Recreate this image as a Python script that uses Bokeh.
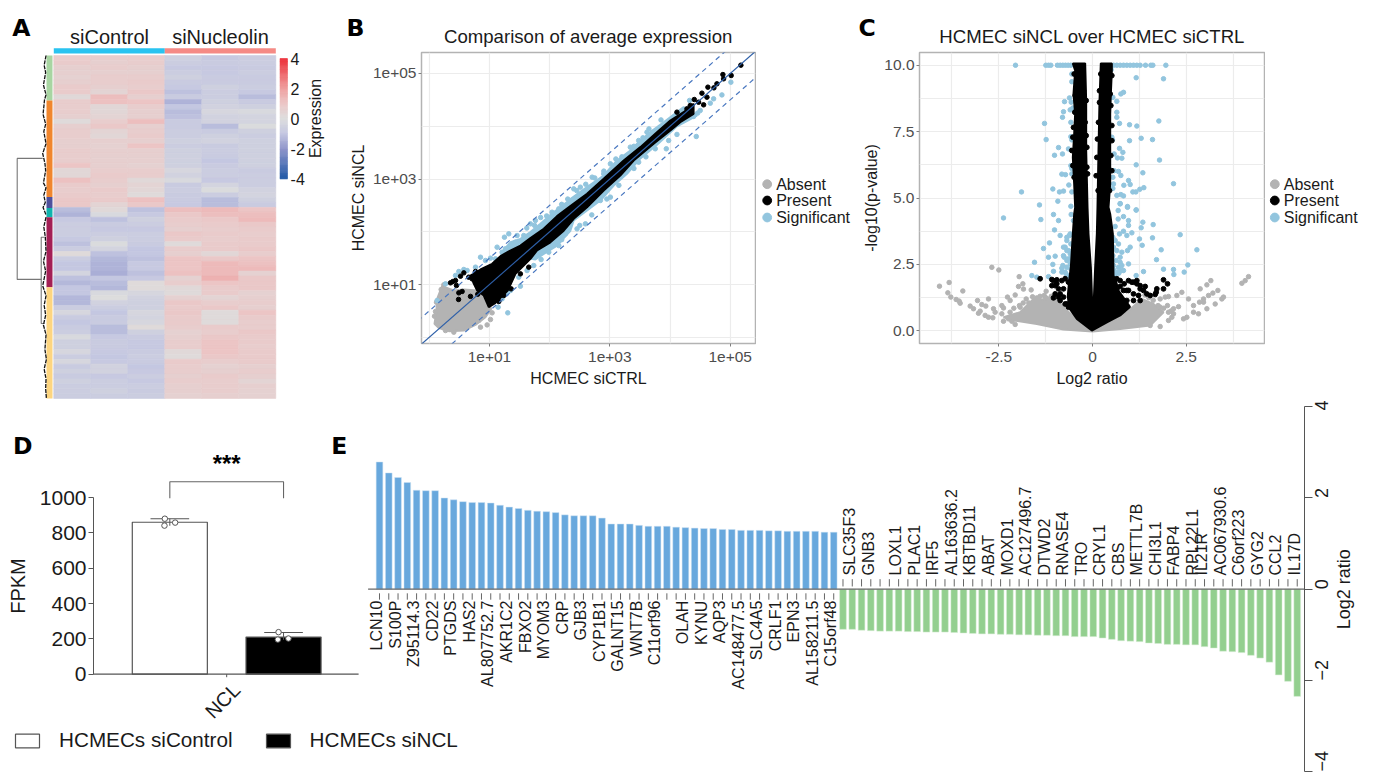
import numpy as np
from math import pi
from bokeh.plotting import figure
from bokeh.layouts import column, row
from bokeh.embed import file_html
from bokeh.resources import INLINE
from bokeh.core.properties import value
from bokeh.models import Range1d, LinearAxis, Grid, FixedTicker, Legend, LegendItem, LinearColorMapper, ColumnDataSource

FONT = "Liberation Sans"
LETTER = "DejaVu Sans"

# ---------- Panel A data ----------
heat_rows = [
 [.7,.7,.7,-.6,-.9,-.7],[.8,.6,.7,-.7,-.8,-.7],[.6,.7,.6,-.9,-.9,-.8],[.6,.6,.6,-.7,-.9,-.7],
 [.5,.7,.7,-.6,-.8,-.8],[.6,.7,.8,-.8,-.8,-.8],[.8,.6,.7,-.9,-.6,-.7],[.8,.4,.9,-1.1,-.7,-.9],
 [.2,1.2,.6,-.8,-.7,-1.2],[.7,1.1,1.0,-1.4,-.6,-.8],[.7,.3,.7,-1.0,-.5,-.6],[.7,.3,.6,-1.2,-.3,-.2],
 [.6,.4,.6,-1.1,-.5,-.4],[.1,.7,1.2,-.8,-.5,-.4],[.6,.9,.6,-.8,-1.2,-.1],[.7,.4,.7,-.7,-.8,-.6],
 [.7,.3,.8,-.7,-.6,-.7],[.6,.6,.6,-.6,-.5,-.6],[.6,.5,1.0,-.7,-.8,-.6],[.7,.6,.6,-.6,-.7,-.6],
 [.7,.6,.6,-.6,-.8,-.6],[.7,.6,.6,-.6,-1.0,-.6],[1.0,.6,.5,-.6,-.8,-.6],[.3,.7,.7,-.3,-.7,-.8],
 [.3,.8,.7,-.5,-.7,-.7],[1.1,.7,.2,-.2,-.9,-.7],[.8,.6,.4,-.8,-.4,-.7],[.7,.8,.3,-.7,-.1,-.5],
 [.8,.7,.1,-.8,-.7,-.4],[.9,.8,1.1,-.8,-1.2,-.6],[.9,.4,.9,-.9,-1.2,-.8],
 [-1.2,.2,-1.1,1.2,1.3,1.0],[-1.4,-.2,-.9,.9,1.2,1.2],[-.9,-1.1,-.6,.8,.9,1.3],[-.7,-.8,-.7,.7,.8,.9],
 [-.7,-.9,-.9,.6,.7,.8],[-.7,-.7,-.7,.9,.8,.7],[-.9,-.6,-.7,.8,.7,.8],[-1.1,-.1,-.8,.1,.8,.8],
 [-.7,-.4,-1.0,.7,.8,.9],[.1,-1.1,-1.0,.6,.3,.7],[-.7,-1.3,-1.1,1.0,.9,1.0],[-1.0,-1.4,-.9,1.0,1.3,1.1],
 [-1.0,-1.4,-.9,1.0,1.3,1.3],[-.4,-1.5,-1.1,1.1,1.3,.5],[-1.1,-1.0,-.9,.5,1.5,.9],[-1.3,-1.2,.1,.7,1.0,.9],
 [-1.0,-1.3,.1,.2,.8,.9],[-1.0,-.2,-.3,.1,.8,.5],[-1.3,.0,-.5,.5,.4,.6],[-1.3,-.5,-.6,.9,.7,.7],
 [-.7,-.7,-.6,.8,.9,.6],[-.3,-1.0,-.3,.9,.1,1.0],[-.8,-.8,-.4,.8,.1,.8],[-1.0,-.8,-.3,.8,.1,.7],
 [-.8,-1.2,.1,.7,.8,.7],[-.7,-1.2,-.6,.5,.7,.9],[-.2,-.9,-.8,.6,.9,.8],[-.6,-.8,-.9,.7,1.0,.8],
 [-.6,-.8,-.9,.7,1.0,.7],[-.3,-.9,-.8,.2,1.0,.8],[-.7,-1.0,-.7,.1,.9,.8],[-.3,-.9,-.8,.8,.7,.8],
 [-.8,-.5,-1.0,.7,.5,.6],[-.6,-.5,-.9,.7,.6,.7],[-.8,-.9,-.7,.6,.8,.6],[-.6,-.7,-.9,.7,.7,.4],
 [-.7,-.7,-.7,.6,.7,.6],[-.7,-.6,-.8,.6,.7,.5],[-.7,-.7,-.7,.5,.6,.5],
]
groups = ["siControl", "siNucleolin"]
group_colors = ["#29c3f0", "#f58a85"]
cluster_edges = [0, 9.18, 28.9, 31.1, 33.0, 47.3, 70]
cluster_colors = ["#a8d5a2", "#f0862e", "#4f519d", "#0fb3ae", "#a31f55", "#fdd580"]
color_levels = [-4, -2, -1, 0, 1, 2, 4]
level_colors = ["#2058a6", "#8f95ca", "#c4c7e1", "#dddddd", "#ecc6c6", "#ee9e9e", "#ed2e38"]
bar_ticks = [4, 2, 0, -2, -4]
dendro_x = [[-.33,-.989,-.989,-.3], [-.25,-.34,-.34,-.25]]
dendro_y = [[45.7,45.7,21.0,21.0], [37.1,37.1,54.7,54.7]]
tangle_top_x = [-.21,-.26,-.22,-.28,-.21,-.25,-.29,-.22,-.27,-.21,-.3,-.24,-.22,-.28,-.21,-.27,-.23,-.29,-.21]
tangle_top_y = [0,2,3.5,6,8,9,12,14,15.5,18,20,22,23.5,26,27,28.5,30,31,32.5]
tangle_low_x = [-.21,-.27,-.23,-.21,-.28,-.22,-.3,-.21,-.26,-.22,-.28,-.21,-.24,-.2,-.26,-.21,-.22,-.2]
tangle_low_y = [33,35,37,40,42,44,47,49,51,53,55,57,60,62,64,66,68,70]

# ---------- Panel B data (log10 values) ----------
band_black_x = [.685,.851,1.044,1.183,1.321,1.515,1.681,1.902,2.123,2.344,2.621,2.898,3.230,3.507,3.783,4.005,4.226,4.391,
                4.391,4.170,4.005,3.728,3.396,3.174,2.898,2.621,2.400,2.234,2.012,1.791,1.681,1.432,1.304,1.100,.989,.906,.796,.741]
band_black_y = [1.171,1.285,1.393,1.538,1.626,1.739,1.879,2.056,2.296,2.486,2.719,3.003,3.351,3.604,3.888,4.109,4.267,4.425,
                4.235,4.077,3.919,3.667,3.351,3.067,2.782,2.466,2.245,2.020,1.800,1.646,1.487,1.201,.887,.653,.571,.792,.887,1.013]
band_blue_x = [1.183,1.349,1.515,1.681,1.846,2.067,2.289,2.344,2.621,2.898,3.119,3.341,3.507,3.673,3.894,4.226,
               4.447,4.115,3.783,3.507,3.285,3.064,2.843,2.621,2.400,2.344,2.123,1.902,1.763]
band_blue_y = [1.581,1.803,1.866,1.993,2.150,2.371,2.561,2.620,2.845,3.067,3.351,3.540,3.730,3.888,4.077,4.362,
               4.200,4.000,3.650,3.390,3.098,2.877,2.593,2.403,2.214,2.020,1.739,1.581,1.474]
blob_grey_x = [.213,.131,.120,.087,.159,.325,.573,.767,.933,1.028,.906,.796,.573,.407]
blob_grey_y = [.969,.728,.507,.255,.173,.116,.128,.235,.381,.539,.792,.887,.906,.887]
b_grey_x = [.120,.104,.087,.961,1.017,1.044,.242,.198,.851,.408,.270,.823]
b_grey_y = [.665,.488,.400,.235,.337,.463,.994,.905,.192,.097,.128,.318]
b_black_x = [5.177,4.878,4.890,5.016,4.779,4.629,4.530,4.729,4.613,4.403,4.558,4.475,4.336,4.281,4.226,4.115,
             .487,.353,.392,.452,.491,.546,.519,.436,.685,.806,.574,.768,.656,.712,1.155,1.238,1.360,1.514,1.653,.989,.906,.839]
b_black_y = [5.158,4.980,4.899,4.962,4.804,4.741,4.627,4.728,4.551,4.507,4.406,4.456,4.393,4.330,4.204,4.267,
             .717,1.032,1.057,.981,.842,.868,1.158,1.076,.775,.817,1.221,1.247,1.139,1.108,.678,.792,.918,1.202,1.329,1.266,1.221,1.171]
b_blue_x = [.851,1.321,1.249,1.127,1.349,1.210,1.459,1.304,.574,.436,.491,.629,.270,.131,1.100,1.017,.934,.768,1.144,1.210,
            1.282,1.349,1.514,1.487,1.625,1.736,1.858,1.985,2.151,2.262,2.594,1.680,1.763,1.929,2.040,2.151,1.570,1.266,1.432,2.455,
            2.706,3.009,3.340,3.617,3.728,3.479,3.065,2.898,2.510,2.400,2.565,3.938,3.977,4.436,4.115,4.392,4.458,4.862,4.724,4.669,
            4.502,4.325,5.011,2.843,3.009,3.755,3.479,3.257,4.170,
            1.62,1.75,1.85,1.95,2.2,2.3,2.45,2.6,2.75,2.9,3.1,3.2,3.4,3.55,3.65,3.85,1.9,2.2,2.5,2.7,2.95,3.15,3.4,3.6]
b_blue_y = [1.518,1.961,1.897,1.708,1.727,1.613,1.929,.463,1.285,1.171,1.247,1.266,1.013,.697,1.487,1.499,1.455,1.329,.571,.729,
            .823,.886,.968,1.139,1.265,1.360,1.474,1.613,1.739,1.961,2.150,2.150,2.214,2.150,2.371,2.434,1.929,1.676,1.803,2.055,
            3.035,3.288,3.604,3.888,3.888,3.730,3.225,3.098,2.845,2.813,2.656,3.573,3.730,3.806,3.845,4.186,4.249,4.594,4.520,4.437,
            4.299,4.489,4.835,2.593,2.656,3.573,3.320,3.131,4.204,
            2.07,2.12,2.27,2.30,2.52,2.62,2.78,2.9,3.02,3.15,3.38,3.42,3.62,3.78,3.95,4.12,1.65,1.85,2.12,2.32,2.62,2.88,3.2,3.42]
diag_log = [-.3, 5.6]
fold_band_log = .5

# ---------- Panel C data ----------
v_black_x = [-.525,-.463,-.507,-.463,-.489,-.525,-.489,-.463,-.489,-.525,-.578,-.62,-.66,-.62,-.418,-.018,
             .383,.738,1.0,.85,.70,.62,.560,.543,.472,.427,.472,.472,.472,.472,.489,.516,.516,
             .222,.187,.160,.133,.116,.071,.027,0,-.044,-.107,-.133,-.169,-.169,-.196]
v_black_y = [10.07,9.80,8.92,8.17,7.41,6.53,5.53,4.65,4.40,3.65,2.39,1.95,1.30,.85,.45,.01,
             .32,.58,.90,1.20,1.50,1.90,2.08,3.65,4.40,4.65,5.53,6.53,7.41,8.17,8.92,9.80,10.07,
             10.07,8.67,6.79,4.65,3.65,2.39,.89,.70,2.39,3.65,4.65,6.79,8.67,10.07]
c_black_x = [-1.397,-1.085,-.952,-.996,-.907,-.685,1.183,1.272,1.406,1.717,1.699,1.895,2.002,1.895,1.673,1.539,1.050,.916,
             -.489,-.240,-.463,-.169,-.472,-.222,-.507,-.196,-.525,-.169,-.552,-.151,-.525,-.151,-.489,-.133,
             .222,.516,.187,.472,.187,.489,.160,.516,.133,.516,.116,.489,.098,.516,.151,.454,
             -1.041,-1.085,-.952,-.819,-.730,-.641,-.907,-.996,-1.041,-.863,-.774,-.863,-.730,-.641,-.774,
             .649,.738,.845,.961,1.094,1.183,1.272,1.361,1.450,1.228,1.094,.961,.827,.738,1.094,.916,1.272,.649]
c_black_y = [1.96,1.93,1.92,1.70,1.27,1.01,1.89,1.70,1.67,1.58,1.45,1.92,1.77,1.58,1.37,1.33,1.83,1.52,
             9.67,9.04,8.86,8.67,8.23,8.35,7.66,7.85,7.29,7.35,6.79,6.91,6.22,6.16,5.78,5.91,
             9.67,9.61,9.04,8.92,8.60,8.48,7.85,7.73,7.22,7.16,6.53,6.60,5.84,6.03,5.28,5.28,
             1.89,1.70,1.77,1.89,1.96,1.83,1.58,1.39,1.24,1.39,1.58,1.14,1.01,.89,1.27,
             1.96,1.89,1.77,1.89,1.83,1.77,1.58,1.52,1.39,1.33,1.39,1.52,1.52,1.67,1.14,1.14,1.14,1.58]
v_grey_x = [-2.375,-1.931,-1.575,-.952,-.685,-.329,0,.383,.916,1.317,1.628,1.895,1.539,.738,0,-.774,-1.486,-2.108]
v_grey_y = [.51,.70,1.20,1.17,.76,.32,.14,.32,.70,1.20,1.01,.70,.20,.07,-.03,.05,.26,.39]
c_grey_x = [-4.084,-3.826,-3.861,-3.781,-3.461,-3.639,-3.559,-3.532,-3.265,-3.176,-3.043,-3.069,-2.954,-2.847,-2.776,-2.642,-2.598,
            -2.420,-2.375,-2.269,-2.198,-2.064,-1.957,-2.687,-2.500,-1.975,-1.859,-1.842,-1.637,-1.486,-1.237,-1.290,-1.201,-1.770,-1.931,
            -2.776,-2.865,-2.660,-2.420,-2.242,-2.153,-2.064,-2.998,-2.375,
            4.164,4.075,3.986,3.158,3.052,2.874,3.345,3.212,3.096,2.963,2.856,2.696,2.562,2.384,2.251,2.028,1.940,1.806,3.496,3.452,3.274,
            3.052,2.829,2.518,2.429,2.162,2.117,2.028,1.539,1.806,1.628,2.295,2.162,2.028,1.806,2.696,2.963,
            -1.7,-1.6,-1.4,-1.25,-1.1,1.5,1.4,1.62,1.75,1.9,-2.2,-2.1,-1.95,-1.85,2.0,2.1]
c_grey_y = [1.68,1.82,1.43,1.27,1.50,1.18,1.12,1.04,.93,.83,.66,1.14,.99,.93,1.20,.83,.70,
            .95,.86,1.27,1.14,1.35,2.04,2.39,2.29,1.67,1.77,1.57,1.54,1.24,1.49,1.33,1.20,1.20,.89,
            .51,.58,.49,.64,.45,.36,.24,.74,.36,
            2.04,1.89,1.79,1.89,1.73,1.58,1.52,1.42,1.33,1.20,1.08,.95,1.20,1.45,1.33,1.29,1.27,1.20,1.27,1.20,1.01,
            .83,.64,.51,.45,.64,.51,.39,.20,.16,.58,.91,.83,.70,.89,.70,1.08,
            1.05,1.28,1.3,1.25,1.3,1.25,1.35,1.15,.95,.85,.7,.85,.95,1.05,.95,.75]
c_blue_top_x = [-2.055,-1.246,-1.174,-1.112,-.934,-.863,-.792,-.721,-.649,-.578,.560,.649,.738,.827,.916,1.005,1.094,1.183,1.272,1.415,1.557,1.610,1.957]
c_blue_x = [1.895,1.166,-.552,.498,-.552,.827,.756,.543,.649,-.614,-.747,-.569,-.525,-.596,-.774,-.801,.649,-.578,-1.281,.721,.988,1.183,1.770,.649,
            -1.237,-.578,-.552,.516,.534,.988,1.299,1.601,-.907,-.641,-.801,-1.014,.721,.810,.578,.667,.783,1.788,1.166,-.578,-.552,.578,.694,1.343,
            -.819,-.721,-.552,.756,.543,.961,2.162,-.632,-1.059,-.881,-.774,-.552,-1.895,.836,1.005,.560,.543,1.076,1.157,1.263,1.370,.649,.756,.827,
            -.925,-1.415,-.578,.738,.934,1.166,
            -2.375,-1.379,-1.041,-.907,-1.014,-.863,-1.148,-1.308,-1.174,-.996,-1.548,-1.059,-1.619,-1.486,-1.041,-1.174,-.685,-.596,-.730,-.641,-.774,
            -.685,-.819,-.730,-.641,-.596,-.552,-.525,-.507,-.569,2.340,2.785,2.544,2.447,2.162,1.895,2.171,1.833,1.708,1.601,1.619,1.343,1.299,1.254,
            1.326,1.361,1.165,.961,.961,1.165,.934,.738,.827,.685,.685,.605,.721,.827,1.050,.916,1.005,.934,.783,.961,.738,.827,.694,.560,
            -.774,-.685,-.614,-.578,-.685,-.596,-.756,-.641,-.552,-.792,-.685,-.578,-.819,-.703,-.596,-.507,
            .543,.605,.694,.560,.649,.543,.738,.632,.560,.694,.783,.578,.703,.783,.605,.516]
c_blue_y = [9.49,9.53,9.67,9.83,9.38,8.98,8.92,8.79,8.64,8.77,8.63,8.61,8.39,8.32,8.25,8.04,8.23,7.85,7.81,7.81,7.76,7.71,7.90,8.04,
            7.20,7.31,7.19,7.29,7.19,7.16,7.25,7.20,6.90,6.85,6.66,6.61,6.87,6.72,6.66,6.51,6.50,6.43,6.25,6.22,6.11,6.03,6.00,5.95,
            5.90,5.88,5.91,5.85,5.78,5.66,5.54,5.49,5.34,5.23,5.26,5.23,5.23,5.48,5.51,5.53,5.36,5.23,5.23,5.33,5.39,5.10,5.13,5.08,
            4.88,4.74,4.69,4.79,4.65,4.55,
            4.25,4.19,4.38,4.15,3.80,3.59,3.31,3.10,2.77,2.81,2.58,2.50,2.08,2.02,2.24,2.04,3.52,3.65,3.15,3.02,2.83,
            2.65,2.36,2.21,2.04,2.52,2.77,3.27,4.15,4.38,3.62,3.05,2.48,2.21,2.31,2.32,2.12,3.05,2.68,3.50,4.00,4.09,3.88,3.46,
            3.22,2.23,2.08,4.15,3.97,4.55,4.68,4.78,4.30,4.53,4.21,3.93,3.65,3.75,3.69,3.59,3.15,3.02,2.96,2.52,2.58,2.27,2.21,2.14,
            3.15,3.40,3.59,3.27,3.02,2.90,2.77,2.71,2.58,2.46,2.39,2.33,2.21,2.14,2.08,2.27,
            3.52,3.40,3.27,3.15,3.02,2.83,2.77,2.65,2.46,2.39,2.46,2.27,2.17,2.27,2.12,2.52]
legend_names = ["Absent", "Present", "Significant"]

# ---------- Panel D data ----------
d_bars = [860, 210]
d_whisk_lo = [840, 195]
d_whisk_hi = [880, 236]
d_pts_x = [-.044, -.047, .047, .956, .95, 1.043]
d_pts_y = [880, 841, 858, 238, 196, 202]
d_names = ["HCMECs siControl", "HCMECs siNCL"]

# ---------- Panel E data ----------
up_vals = [2.79,2.55,2.45,2.34,2.17,2.16,2.16,2.00,1.96,1.92,1.90,1.90,1.89,1.84,1.80,1.77,1.73,1.71,1.70,1.68,
           1.63,1.61,1.61,1.61,1.56,1.43,1.43,1.43,1.40,1.38,1.38,1.38,1.36,1.35,1.34,1.33,1.33,1.31,1.31,1.29,
           1.29,1.29,1.28,1.28,1.27,1.27,1.27,1.27,1.25,1.25]
down_vals = [-.88,-.88,-.90,-.91,-.92,-.92,-.92,-.93,-.93,-.94,-.94,-.94,-.95,-.96,-.97,-.98,-.98,-.99,-.99,-1.00,
             -1.00,-1.01,-1.01,-1.02,-1.02,-1.04,-1.04,-1.04,-1.07,-1.10,-1.13,-1.14,-1.15,-1.18,-1.19,-1.21,-1.21,-1.22,-1.22,-1.26,
             -1.29,-1.36,-1.37,-1.39,-1.45,-1.51,-1.60,-1.88,-2.02,-2.35]
up_labels = {0:"LCN10",2:"S100P",4:"Z95114.3",6:"CD22",8:"PTGDS",10:"HAS2",12:"AL807752.7",14:"AKR1C2",16:"FBXO2",18:"MYOM3",
             20:"CRP",22:"GJB3",24:"CYP1B1",26:"GALNT15",28:"WNT7B",30:"C11orf96",33:"OLAH",35:"KYNU",37:"AQP3",39:"AC148477.5",
             41:"SLC4A5",43:"CRLF1",45:"EPN3",47:"AL158211.5",49:"C15orf48"}
down_labels = {51:"SLC35F3",53:"GNB3",56:"LOXL1",58:"PLAC1",60:"IRF5",62:"AL163636.2",64:"KBTBD11",66:"ABAT",68:"MOXD1",
               70:"AC127496.7",72:"DTWD2",74:"RNASE4",76:"TRO",78:"CRYL1",80:"CBS",82:"METTL7B",84:"CHI3L1",86:"FABP4",
               88:"RPL22L1",89:"IL21R",91:"AC067930.6",93:"C6orf223",95:"GYG2",97:"CCL2",99:"IL17D"}

GREY, BLACK, BLUE = "#b3b3b3", "#000000", "#92c5de"
GRID = "#ececec"
TXT = "#1a1a1a"
AX = "#4d4d4d"

def base(**kw):
    p = figure(output_backend="svg", toolbar_location=None, **kw)
    p.border_fill_color = "white"
    p.min_border = 0
    return p

def bare(w, h, xr, yr):
    p = base(width=w, height=h, x_range=Range1d(*xr), y_range=Range1d(*yr), x_axis_location=None, y_axis_location=None)
    p.outline_line_color = None
    p.grid.visible = False
    return p

# ---------- strip above the panels: letters, titles, group names ----------
strip = bare(1377, 47, (0, 1377), (47, 0))
strip.text(x=[11.7, 346, 858], y=[27, 27, 27], text=["A", "B", "C"], text_font=value(LETTER), text_font_style="bold",
           text_font_size="23.5px", text_color="#000000", text_baseline="alphabetic")
strip.text(x=[587.7, 1091.7], y=[36, 36], text=["Comparison of average expression", "HCMEC siNCL over HCMEC siCTRL"],
           text_font=value(FONT), text_font_size="18.6px", text_color=TXT, text_align="center", text_baseline="middle")
strip.text(x=[109, 220], y=[36, 36], text=groups, text_font=value(FONT), text_font_size="20px", text_color=TXT,
           text_align="center", text_baseline="middle")

# ---------- A ----------
a = bare(340, 353, (-1.4405, 7.749), (70.41, -1.633))
stop_pos = np.array(color_levels, dtype=float)
def hexrgb(h): return [int(h[i:i+2], 16) for i in (1, 3, 5)]
stop_rgb = np.array([hexrgb(c) for c in level_colors], dtype=float)
grid_v = np.linspace(-4, 4, 256)
palette = ["#%02x%02x%02x" % tuple(int(round(np.interp(g, stop_pos, stop_rgb[:, k]))) for k in range(3)) for g in grid_v]
mapper = LinearColorMapper(palette=palette, low=-4, high=4)
hx, hy, hv = [], [], []
for r, vals in enumerate(heat_rows):
    for c_i, v in enumerate(vals):
        hx.append(c_i + .5); hy.append(r + .5); hv.append(v)
hsrc = ColumnDataSource(dict(x=hx, y=hy, v=hv))
fill = {"field": "v", "transform": mapper}
a.rect("x", "y", width=1, height=1, source=hsrc, fill_color=fill, line_color=fill, line_width=.6)
a.quad(left=[0, 3], right=[3, 6], top=[-1.49, -1.49], bottom=[-.41, -.41], fill_color=group_colors, line_color=None)
a.quad(left=-.197, right=-.035, top=cluster_edges[:-1], bottom=cluster_edges[1:], fill_color=cluster_colors, line_color=None)
a.multi_line(dendro_x, dendro_y, line_color="#777777", line_width=1.1)
a.line(tangle_top_x, tangle_top_y, line_color="#111111", line_width=1.3, line_dash="4 1")
a.line(tangle_low_x, tangle_low_y, line_color="#111111", line_width=1.3, line_dash="4 1")
# colour key: a strip of the same mapper, row 0.67 is level +4 and row 25.16 is level -4
key_levels = grid_v[::-1]
key_row = .67 + (4 - key_levels) / 8 * 24.49
key_src = ColumnDataSource(dict(y=key_row, v=key_levels))
key_fill = {"field": "v", "transform": mapper}
a.rect(x=6.215, y="y", width=.21, height=.2, source=key_src, fill_color=key_fill, line_color=None)
a.text(x=[6.4] * 5, y=[.67 + (4 - t) / 8 * 24.49 for t in bar_ticks], text=[str(t) for t in bar_ticks], text_font=value(FONT),
       text_font_size="16px", text_color=TXT, text_baseline="middle")
a.text(x=[7.07], y=[12.86], text=["Expression"], angle=pi/2, text_font=value(FONT), text_font_size="16px", text_color=TXT,
       text_align="center", text_baseline="middle")

def style_axes(p):
    for ax in [p.xaxis[0], p.yaxis[0]]:
        ax.major_label_text_font = FONT
        ax.major_label_text_font_size = "15.5px"
        ax.major_label_text_color = AX
        ax.axis_label_text_font = FONT
        ax.axis_label_text_font_size = "16px"
        ax.axis_label_text_font_style = "normal"
        ax.axis_label_text_color = TXT
        ax.axis_line_color = None
        ax.major_tick_line_color = "#7f7f7f"
        ax.major_tick_out = 3
        ax.major_tick_in = 0
        ax.minor_tick_line_color = None
    p.xaxis[0].major_label_standoff = 5
    p.yaxis[0].major_label_standoff = 2
    p.outline_line_color = "#b3b3b3"
    p.outline_line_width = 1.5
    p.grid.visible = False

def key_panel(w, dot_x, text_x):
    k = bare(w, 353, (0, w), (400, 47))
    k.scatter([dot_x] * 3, [183.7, 200, 217], size=8.8, color=[GREY, BLACK, BLUE], marker="circle")
    k.text(x=[text_x] * 3, y=[183.7, 200, 217], text=legend_names, text_font=value(FONT), text_font_size="16px",
           text_color=TXT, text_baseline="middle")
    return k

# ---------- B ----------
E10 = lambda arr: (10.0 ** np.array(arr, dtype=float)).tolist()
b = base(width=416, height=353, x_axis_type="log", y_axis_type="log",
         x_range=Range1d(10**-.129, 10**5.42), y_range=Range1d(10**-.118, 10**5.398),
         min_border_left=81, min_border_right=1, min_border_top=5, min_border_bottom=57)
style_axes(b)
b.xaxis[0].axis_label = "HCMEC siCTRL"
b.yaxis[0].axis_label = "HCMEC siNCL"
b.yaxis[0].axis_label_standoff = 3
b.xaxis[0].ticker = FixedTicker(ticks=[10, 1000, 100000])
b.yaxis[0].ticker = FixedTicker(ticks=[10, 1000, 100000])
over = {10: "1e+01", 1000: "1e+03", 100000: "1e+05"}
b.xaxis[0].major_label_overrides = over
b.yaxis[0].major_label_overrides = over
for d in (0, 1):
    b.add_layout(Grid(dimension=d, ticker=FixedTicker(ticks=[1, 10, 100, 1000, 10000, 100000]), grid_line_color=GRID, grid_line_width=1.2))
b.patch(E10(blob_grey_x), E10(blob_grey_y), fill_color=GREY, line_color=GREY, line_width=2)
b.scatter(E10(b_grey_x), E10(b_grey_y), size=4.5, color=GREY, marker="circle")
b.patch(E10(band_blue_x), E10(band_blue_y), fill_color=BLUE, line_color=BLUE, line_width=2)
b.scatter(E10(b_blue_x), E10(b_blue_y), size=4.5, color=BLUE, marker="circle")
b.patch(E10(band_black_x), E10(band_black_y), fill_color=BLACK, line_color=BLACK, line_width=2)
b.scatter(E10(b_black_x), E10(b_black_y), size=4.5, color=BLACK, marker="circle")
dx = np.array(diag_log)
b.line(10.0**dx, 10.0**dx, line_color="#2d5fa8", line_width=1.2)
b.line(10.0**dx, 10.0**(dx + fold_band_log), line_color="#4a78c0", line_width=1.2, line_dash="5 4")
b.line(10.0**dx, 10.0**(dx - fold_band_log), line_color="#4a78c0", line_width=1.2, line_dash="5 4")
b_key = key_panel(96, 10.7, 19.7)

# ---------- C ----------
c = base(width=413, height=353, x_range=Range1d(-4.617, 4.59), y_range=Range1d(-.478, 10.48),
         min_border_left=67, min_border_right=1, min_border_top=5, min_border_bottom=57)
style_axes(c)
c.xaxis[0].axis_label = "Log2 ratio"
c.yaxis[0].axis_label = "-log10(p-value)"
c.yaxis[0].axis_label_standoff = 1
c.xaxis[0].ticker = FixedTicker(ticks=[-2.5, 0, 2.5])
c.xaxis[0].major_label_overrides = {-2.5: "-2.5", 0: "0", 2.5: "2.5"}
c.yaxis[0].ticker = FixedTicker(ticks=[0, 2.5, 5, 7.5, 10])
c.yaxis[0].major_label_overrides = {0: "0.0", 2.5: "2.5", 5: "5.0", 7.5: "7.5", 10: "10.0"}
c.add_layout(Grid(dimension=0, ticker=FixedTicker(ticks=[-3.75, -2.5, -1.25, 0, 1.25, 2.5, 3.75]), grid_line_color=GRID, grid_line_width=1.2))
c.add_layout(Grid(dimension=1, ticker=FixedTicker(ticks=[0, 1.25, 2.5, 3.75, 5, 6.25, 7.5, 8.75, 10]), grid_line_color=GRID, grid_line_width=1.2))
c.patch(v_grey_x, v_grey_y, fill_color=GREY, line_color=GREY, line_width=2)
c.scatter(c_grey_x, c_grey_y, size=4.5, color=GREY, marker="circle")
c.scatter(c_blue_x, c_blue_y, size=4.5, color=BLUE, marker="circle")
c.scatter(c_blue_top_x, [10.0] * len(c_blue_top_x), size=4.5, color=BLUE, marker="circle")
c.segment(x0=[-1.0, .56], y0=[10, 10], x1=[-.5, 1.2], y1=[10, 10], line_color=BLUE, line_width=3.5)
c.patch(v_black_x, v_black_y, fill_color=BLACK, line_color=BLACK, line_width=2)
c.scatter(c_black_x, c_black_y, size=4.8, color=BLACK, marker="circle")
c_key = key_panel(112, 9.3, 18.3)

# ---------- D + E share one frame; both axes sit at fixed places inside it ----------
de = base(width=1377, height=382, x_axis_location=None, y_axis_location=None,
          x_range=Range1d(-1.489, 10.62), y_range=Range1d(-612.9, 1549),
          min_border_left=0, min_border_right=0, min_border_top=0, min_border_bottom=0)
de.outline_line_color = None
de.grid.visible = False
de.extra_x_ranges = {"ex": Range1d(-40.885, 107.66)}
de.extra_y_ranges = {"ey": Range1d(-4.239, 4.138)}
left = LinearAxis(ticker=FixedTicker(ticks=[0, 200, 400, 600, 800, 1000]), bounds=(0, 1000), axis_label="FPKM", fixed_location=-.671)
left.major_label_text_font = FONT
left.major_label_text_font_size = "21px"
left.major_label_text_color = TXT
left.axis_label_text_font = FONT
left.axis_label_text_font_size = "20px"
left.axis_label_text_font_style = "normal"
left.axis_label_text_color = TXT
left.axis_line_color = "#555555"
left.major_tick_line_color = "#555555"
left.major_tick_out = 5
left.major_tick_in = 0
left.minor_tick_line_color = None
left.major_label_standoff = 2
left.axis_label_standoff = 8
de.add_layout(left, "left")
right = LinearAxis(x_range_name="ex", y_range_name="ey", ticker=FixedTicker(ticks=[-4, -2, 0, 2, 4]), bounds=(-4, 4), fixed_location=99.78,
                   major_label_orientation=pi/2)
right.major_label_text_font = FONT
right.major_label_text_font_size = "18px"
right.major_label_text_color = TXT
right.axis_line_color = "#555555"
right.major_tick_line_color = "#555555"
right.major_tick_out = 8
right.major_tick_in = 0
right.minor_tick_line_color = None
right.major_label_standoff = 9
de.add_layout(right, "right")
de.text(x=[104.0], y=[0], text=["Log2 ratio"], angle=pi/2, x_range_name="ex", y_range_name="ey", text_font=value(FONT),
        text_font_size="18px", text_color=TXT, text_align="center", text_baseline="middle")
white_bar = de.vbar(x=[0], top=[d_bars[0]], width=.66, fill_color="white", line_color="#555555", line_width=1.2)
black_bar = de.vbar(x=[1], top=[d_bars[1]], width=.66, fill_color="black", line_color="#555555", line_width=1.2)
de.segment(x0=[-.671], y0=[0], x1=[1.66], y1=[0], line_color="#555555", line_width=1.2)
de.segment(x0=[.5], y0=[0], x1=[.5], y1=[-17], line_color="#555555", line_width=1)
de.segment(x0=[0, 1], y0=d_whisk_lo, x1=[0, 1], y1=d_whisk_hi, line_color="#555555", line_width=1)
de.segment(x0=[-.17, .83], y0=d_whisk_hi, x1=[.17, 1.17], y1=d_whisk_hi, line_color="#555555", line_width=1.1)
de.scatter(d_pts_x, d_pts_y, size=5.5, fill_color="white", line_color="#555555", line_width=1, marker="circle")
de.line([0, 0, 1, 1], [996, 1089, 1089, 996], line_color="#666666", line_width=1.1)
de.text(x=[.5], y=[1195], text=["***"], text_font=value(FONT), text_font_style="bold", text_font_size="24px",
        text_color="#000000", text_align="center", text_baseline="middle")
de.text(x=[.464], y=[-149], text=["NCL"], angle=pi/4, text_font=value(FONT), text_font_size="20px", text_color=TXT,
        text_align="center", text_baseline="middle")
leg = Legend(items=[LegendItem(label=d_names[0], renderers=[white_bar]), LegendItem(label=d_names[1], renderers=[black_bar])],
             orientation="horizontal", location=(12, 30), glyph_width=30, glyph_height=17, padding=0, margin=0, spacing=30,
             label_standoff=17, border_line_color=None, background_fill_color=None, label_text_font=FONT,
             label_text_font_size="20.7px", label_text_color=TXT)
de.add_layout(leg, "center")
de.text(x=[-1.38, 1.42], y=[1291, 1294], text=["D", "E"], text_font=value(LETTER), text_font_style="bold", text_font_size="23.5px",
        text_color="#000000", text_baseline="alphabetic")

idx_up = list(range(len(up_vals)))
idx_dn = [i + len(up_vals) for i in range(len(down_vals))]
de.vbar(x=idx_up, top=up_vals, width=.72, x_range_name="ex", y_range_name="ey", fill_color="#68a8dd", line_color="#cfe2f3", line_width=.5)
de.vbar(x=idx_dn, top=down_vals, width=.72, x_range_name="ex", y_range_name="ey", fill_color="#93cf8f", line_color="#d5edd3", line_width=.5)
de.segment(x0=[-1.23], y0=[0], x1=[99.78], y1=[0], x_range_name="ex", y_range_name="ey", line_color="#666666", line_width=1.2)
de.segment(x0=idx_up, y0=[-.09] * 50, x1=idx_up, y1=[-.23] * 50, x_range_name="ex", y_range_name="ey", line_color="#555555", line_width=.9)
de.segment(x0=idx_dn, y0=[.06] * 50, x1=idx_dn, y1=[.22] * 50, x_range_name="ex", y_range_name="ey", line_color="#555555", line_width=.9)
de.text(x=[k - .3 for k in up_labels], y=[-.25] * len(up_labels), text=list(up_labels.values()), angle=pi/2, x_range_name="ex",
        y_range_name="ey", text_font=value(FONT), text_font_size="16px", text_color=TXT, text_align="right", text_baseline="middle")
de.text(x=[k - .3 for k in down_labels], y=[.3] * len(down_labels), text=list(down_labels.values()), angle=pi/2, x_range_name="ex",
        y_range_name="ey", text_font=value(FONT), text_font_size="16px", text_color=TXT, text_align="left", text_baseline="middle")

top_row = row(column(a), column(b), column(b_key), column(c), column(c_key), spacing=0)
page = column(row(strip), top_row, row(de), spacing=0)
open("out.html", "w").write(file_html(page, INLINE))
